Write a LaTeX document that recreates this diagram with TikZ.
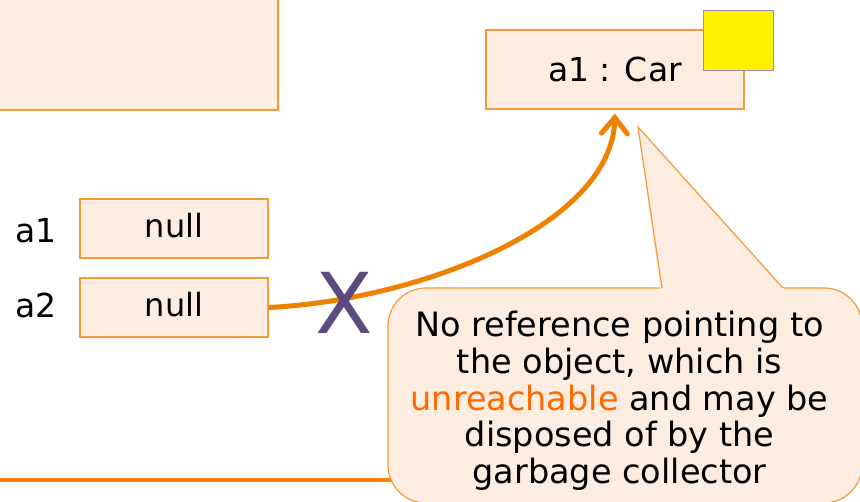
\documentclass[tikz,border=0pt]{standalone}
\usepackage{fontspec}
\setmainfont{DejaVu Sans}
\usetikzlibrary{arrows.meta}
\definecolor{boxfill}{HTML}{FDEDE1}
\definecolor{boxline}{HTML}{F39A3A}
\definecolor{refline}{HTML}{EE8200}
\definecolor{crossmark}{HTML}{5B4A7D}
\definecolor{hilite}{HTML}{FF6A00}
\definecolor{rulecol}{HTML}{FF8000}
\definecolor{tagline}{HTML}{A585C8}
\tikzset{
  memcell/.style={draw=boxline, fill=boxfill, line width=1.3pt, inner sep=0pt,
    font=\fontsize{32}{38}\selectfont},
  nullcell/.style={memcell, minimum width=188pt, minimum height=59pt,
    text height=24pt, text depth=7pt},
  varlabel/.style={inner sep=0pt, anchor=base, font=\fontsize{33}{38}\selectfont},
  refarrow/.style={draw=refline, line width=5pt,
    -{Straight Barb[length=16pt, width=26pt, line cap=round]}},
  bubble/.style={draw=boxline, fill=boxfill, line width=1.2pt, rounded corners=38pt,
    inner sep=0pt},
  bubbletext/.style={inner sep=0pt, align=center, font=\fontsize{33.5}{36.7}\selectfont},
}
\begin{document}
\begin{tikzpicture}[x=1pt, y=-1pt]
\useasboundingbox (0,0) rectangle (860,501);
% enclosing frame cut by the top-left corner
\node[memcell, minimum width=288pt, minimum height=120pt] (frame) at (134,50) {};
% object on the heap
\node[memcell, font=\fontsize{33}{38}\selectfont, minimum width=258pt, minimum height=79pt]
  (car) at (615,69.5) {a1 : Car};
\node[draw=tagline, fill=yellow, line width=1pt, minimum width=70pt, minimum height=60pt,
  inner sep=0pt] (tag) at (738,40) {};
% reference variables
\node[nullcell] (v1) at (174,228.5) {null};
\node[nullcell] (v2) at (174,307.5) {null};
\node[varlabel] (l1) at (36,242) {a1};
\node[varlabel] (l2) at (36,317) {a2};
% stale reference
\draw[refarrow, shorten >=4pt] (v2.east) .. controls (420,300) and (612,225) .. (car.south);
\node[text=crossmark, inner sep=0pt, anchor=base, font=\fontsize{84}{84}\selectfont]
  (cross) at (344,333) {X};
% rule along the bottom, running under the bubble
\coordinate (edgeL) at (0,480);
\coordinate (edgeR) at (400,480);
\draw[rulecol, line width=4.8pt] (edgeL) -- (edgeR);
% explanation bubble
\node[bubble, minimum width=474pt, minimum height=215pt] (note) at (625,395.5) {};
\coordinate (tip) at (638,127);
\fill[boxfill] (tip) -- (660,289.8) -- (785,289.8) -- cycle;
\draw[boxline, line width=1.2pt, line join=miter] (662,288) -- (tip) -- (783,288);
\node[bubbletext] (notetext) at (619.5,401)
  {No reference pointing to\\the object, which is\\\textcolor{hilite}{unreachable} and may be\\disposed of by the\\garbage collector};
\end{tikzpicture}
\end{document}
